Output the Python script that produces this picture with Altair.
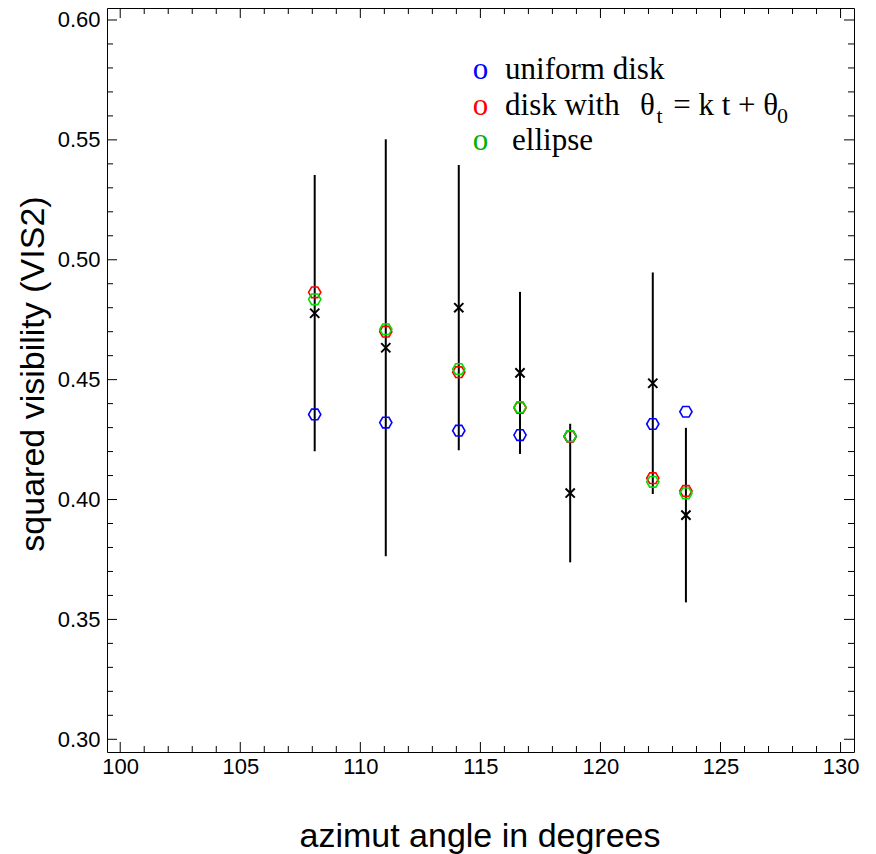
import altair as alt
import pandas as pd

# ---- data ----
azimut = [108.1, 111.06, 114.1, 116.65, 118.74, 122.18, 123.56]
vis2_obs = [0.4777, 0.4633, 0.4800, 0.4528, 0.4027, 0.4485, 0.3935]
vis2_err = [0.0576, 0.0870, 0.0595, 0.0338, 0.0289, 0.0462, 0.0364]
uniform_disk = [0.4355, 0.4321, 0.4287, 0.4269, 0.4264, 0.4315, 0.4366]
disk_theta = [0.4864, 0.4700, 0.4531, 0.4382, 0.4262, 0.4089, 0.4036]
ellipse = [0.4835, 0.4710, 0.4544, 0.4385, 0.4264, 0.4074, 0.4026]

x_major = [100, 105, 110, 115, 120, 125, 130]
x_minor = [v for v in range(100, 131) if v % 5 != 0]
y_major = [0.30, 0.35, 0.40, 0.45, 0.50, 0.55, 0.60]
y_minor = [round(0.30 + 0.01 * i, 2) for i in range(31) if i % 5 != 0]

legend_sym_x = [115.0, 115.0, 115.0]
legend_sym_y = [0.5754, 0.5605, 0.5456]
legend_sym_color = ["#0000ff", "#ff0000", "#00b000"]
legend_text = ["uniform disk", "disk with", "θ", "= k t + θ", "ellipse"]
legend_text_x = [116.03, 116.03, 121.65, 123.03, 116.32]
legend_text_y = [0.5754, 0.5605, 0.5605, 0.5605, 0.5456]
legend_sub = ["t", "0"]
legend_sub_x = [122.34, 127.35]
legend_sub_y = [0.5570, 0.5570]

W, H = 747, 744
X_DOM = [99.45, 130.56]
Y_DOM = [0.2947, 0.605]

df = pd.DataFrame({
    "x": azimut,
    "obs": vis2_obs,
    "lo": [o - e for o, e in zip(vis2_obs, vis2_err)],
    "hi": [o + e for o, e in zip(vis2_obs, vis2_err)],
    "blue": uniform_disk,
    "red": disk_theta,
    "green": ellipse,
})

HEX = "M-1,0L-0.5,-0.866L0.5,-0.866L1,0L0.5,0.866L-0.5,0.866Z"
CROSS = "M-1,-1L1,1M-1,1L1,-1"

xs = alt.Scale(domain=X_DOM, nice=False, zero=False)
ys = alt.Scale(domain=Y_DOM, nice=False, zero=False)

x_axis = alt.Axis(
    values=x_major, ticks=False, domain=False, grid=False, format="d",
    labelFont="Liberation Sans", labelFontSize=22, labelColor="black",
    labelPadding=4, labelFlush=False,
    title="azimut angle in degrees", titleFont="Liberation Sans",
    titleFontSize=34, titleFontWeight="normal", titleColor="black",
    titleX=372.5, titleY=94, titleAlign="center", titleBaseline="alphabetic",
)
y_axis = alt.Axis(
    values=y_major, ticks=False, domain=False, grid=False, format=".2f",
    labelFont="Liberation Sans", labelFontSize=22, labelColor="black",
    labelPadding=7, labelFlush=False,
    title="squared visibility (VIS2)", titleFont="Liberation Sans",
    titleFontSize=34, titleFontWeight="normal", titleColor="black",
    titleX=-64, titleY=365.5, titleAngle=-90, titleAlign="center",
    titleBaseline="alphabetic",
)

base = alt.Chart(df)

bars = base.mark_rule(color="black", strokeWidth=2).encode(
    x=alt.X("x:Q", scale=xs, axis=x_axis),
    y=alt.Y("lo:Q", scale=ys, axis=y_axis),
    y2="hi:Q",
)

def hexes(field, color):
    return base.mark_point(shape=HEX, filled=False, color=color, size=150,
                           strokeWidth=1.6, opacity=1).encode(
        x=alt.X("x:Q", scale=xs),
        y=alt.Y(f"{field}:Q", scale=ys),
    )

crosses = base.mark_point(shape=CROSS, filled=False, color="black", size=85,
                          strokeWidth=2, opacity=1).encode(
    x=alt.X("x:Q", scale=xs),
    y=alt.Y("obs:Q", scale=ys),
)

# ---- inward ticks on all four sides ----
def xticks(vals, length):
    d = pd.DataFrame({"v": vals})
    bot = alt.Chart(d).mark_rule(color="black", strokeWidth=1).encode(
        x=alt.X("v:Q", scale=xs), y=alt.value(H), y2=alt.value(H - length))
    top = alt.Chart(d).mark_rule(color="black", strokeWidth=1).encode(
        x=alt.X("v:Q", scale=xs), y=alt.value(0), y2=alt.value(length))
    return [bot, top]

def yticks(vals, length):
    d = pd.DataFrame({"v": vals})
    left = alt.Chart(d).mark_rule(color="black", strokeWidth=1).encode(
        y=alt.Y("v:Q", scale=ys), x=alt.value(0), x2=alt.value(length))
    right = alt.Chart(d).mark_rule(color="black", strokeWidth=1).encode(
        y=alt.Y("v:Q", scale=ys), x=alt.value(W), x2=alt.value(W - length))
    return [left, right]

tick_layers = xticks(x_major, 10) + xticks(x_minor, 6) + yticks(y_major, 10) + yticks(y_minor, 6)

# ---- legend (text annotation) ----
sym_df = pd.DataFrame({"x": legend_sym_x, "y": legend_sym_y, "c": legend_sym_color})
syms = alt.Chart(sym_df).mark_text(text="o", font="Liberation Serif", fontSize=31,
                                   align="center", baseline="alphabetic").encode(
    x=alt.X("x:Q", scale=xs), y=alt.Y("y:Q", scale=ys),
    color=alt.Color("c:N", scale=None))

txt_df = pd.DataFrame({"x": legend_text_x, "y": legend_text_y, "t": legend_text})
txts = alt.Chart(txt_df).mark_text(font="Liberation Serif", fontSize=31, color="black",
                                   align="left", baseline="alphabetic").encode(
    x=alt.X("x:Q", scale=xs), y=alt.Y("y:Q", scale=ys), text="t:N")

sub_df = pd.DataFrame({"x": legend_sub_x, "y": legend_sub_y, "t": legend_sub})
subs = alt.Chart(sub_df).mark_text(font="Liberation Serif", fontSize=22, color="black",
                                   align="left", baseline="alphabetic").encode(
    x=alt.X("x:Q", scale=xs), y=alt.Y("y:Q", scale=ys), text="t:N")

chart = alt.layer(
    bars, *tick_layers, hexes("blue", "#0000ff"), hexes("red", "#ff0000"),
    hexes("green", "#00dd00"), crosses, syms, txts, subs,
).properties(
    width=W, height=H,
    autosize=alt.AutoSizeParams(type="none"),
    padding={"left": 99, "top": 0, "right": 14, "bottom": 102},
    background="white",
).configure_view(stroke="black", strokeWidth=1)

chart.save("out.html", embed_options={"renderer": "svg", "actions": False})
